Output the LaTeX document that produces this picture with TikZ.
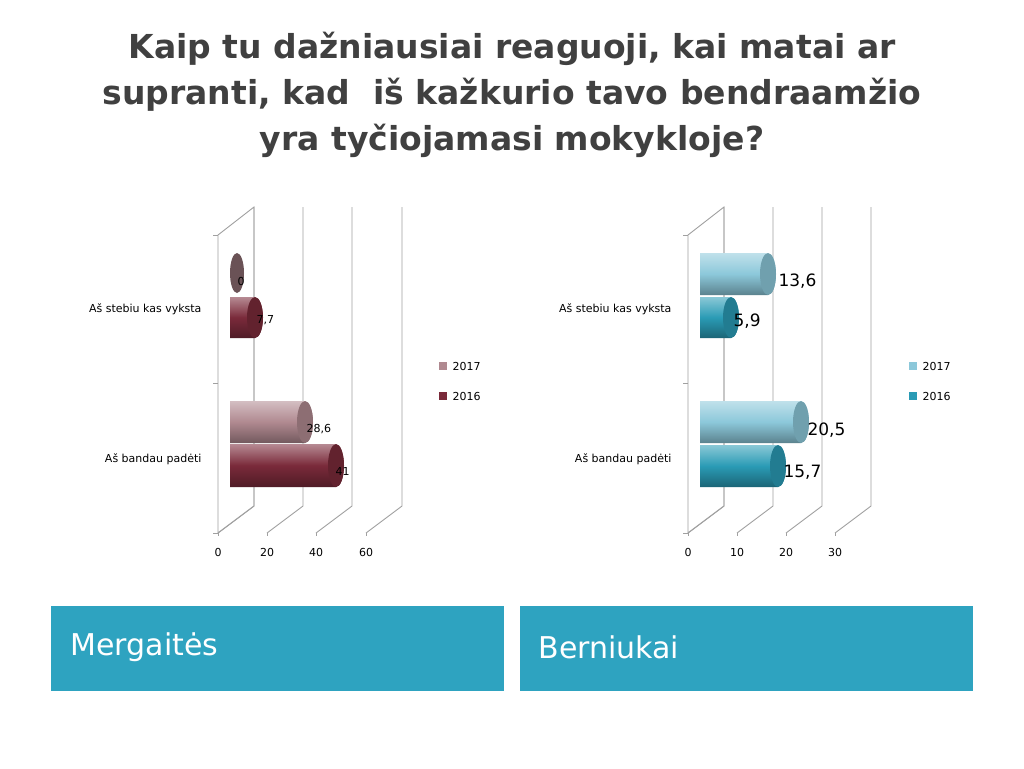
\documentclass[tikz,border=0pt]{standalone}
\usepackage{fontspec}
\setmainfont{DejaVu Sans}
\definecolor{boxblue}{HTML}{2EA3C0}
\definecolor{girlold}{HTML}{7A2A3A}
\definecolor{girlnew}{HTML}{B08990}
\definecolor{boyold}{HTML}{2A9BB5}
\definecolor{boynew}{HTML}{8CC8DA}
\definecolor{gridgray}{HTML}{A0A0A0}
\tikzset{
  grid line/.style={draw=gridgray,line width=0.9pt},
  cat label/.style={anchor=east,font=\fontsize{11}{13}\selectfont},
  tick label/.style={font=\fontsize{11}{13}\selectfont},
  small val/.style={anchor=west,font=\fontsize{11}{13}\selectfont},
  big val/.style={anchor=west,font=\fontsize{17}{19}\selectfont},
  legend text/.style={anchor=west,font=\fontsize{11}{13}\selectfont},
  group box/.style={fill=boxblue,draw=none},
  group text/.style={anchor=west,text=white,font=\fontsize{30}{34}\selectfont}
}
% cylinder bar: y top, y bottom, x start, x end, colour
\newcommand{\cylbar}[5]{%
  \shade[top color=#5!55!white,bottom color=#5!65!black,middle color=#5]
    (#3,#1) -- (#4,#1) arc[start angle=-90,end angle=90,x radius=8,y radius={(#2-#1)/2}] -- (#3,#2) -- cycle;
  \fill[#5!80!black] (#4,{(#1+#2)/2}) ellipse[x radius=8,y radius={(#2-#1)/2}];
}
\begin{document}
\begin{tikzpicture}[x=1pt,y=-1pt]
  \useasboundingbox (0,0) rectangle (1024,768);
  \fill[white] (0,0) rectangle (1024,768);

  % title
  \node[align=center,font=\fontsize{33}{46}\selectfont\bfseries,text=black!75] (title) at (512,95)
    {Kaip tu dažniausiai reaguoji, kai matai ar\\supranti, kad\ \ iš kažkurio tavo bendraamžio\\yra tyčiojamasi mokykloje?};

  % left chart frame
  \draw[grid line] (218,235) -- (218,533) -- (254,506) -- (254,207) -- cycle;
  \foreach \xx/\lab in {218/0,267/20,316/40,366/60} {
    \draw[grid line] (\xx,533) -- ++(36,-27) -- ++(0,-299);
    \draw[grid line] (\xx,533) -- ++(0,3);
    \node[tick label] (tl\lab) at (\xx,552) {\lab};
  }
  \foreach \yy in {235,383,533} \draw[grid line] (213,\yy) -- (218,\yy);

  % right chart frame
  \draw[grid line] (688,235) -- (688,533) -- (724,506) -- (724,207) -- cycle;
  \foreach \xx/\lab in {688/0,737/10,786/20,835/30} {
    \draw[grid line] (\xx,533) -- ++(36,-27) -- ++(0,-299);
    \draw[grid line] (\xx,533) -- ++(0,3);
    \node[tick label] (tr\lab) at (\xx,552) {\lab};
  }
  \foreach \yy in {235,383,533} \draw[grid line] (683,\yy) -- (688,\yy);

  % left bars
  \fill[girlnew!60!black] (237,273) ellipse[x radius=7,y radius=20];
  \cylbar{297}{338}{230}{255}{girlold}
  \cylbar{401}{443}{230}{305}{girlnew}
  \cylbar{444}{487}{230}{336}{girlold}
  \node[small val] (v1) at (234,281) {0};
  \node[small val] (v2) at (253,320) {7,7};
  \node[small val] (v3) at (303,429) {28,6};
  \node[small val] (v4) at (332,471) {41};

  % right bars
  \cylbar{253}{295}{700}{768}{boynew}
  \cylbar{297}{338}{700}{731}{boyold}
  \cylbar{401}{443}{700}{801}{boynew}
  \cylbar{445}{487}{700}{778}{boyold}
  \node[big val] (w1) at (775,281) {13,6};
  \node[big val] (w2) at (730,321) {5,9};
  \node[big val] (w3) at (804,430) {20,5};
  \node[big val] (w4) at (780,472) {15,7};

  % category labels
  \node[cat label] (cl1) at (205,309) {Aš stebiu kas vyksta};
  \node[cat label] (cl2) at (205,459) {Aš bandau padėti};
  \node[cat label] (cr1) at (675,309) {Aš stebiu kas vyksta};
  \node[cat label] (cr2) at (675,459) {Aš bandau padėti};

  % legends
  \fill[girlnew] (439,362) rectangle ++(8,8);
  \node[legend text] (lg1) at (449,366) {2017};
  \fill[girlold] (439,392) rectangle ++(8,8);
  \node[legend text] (lg2) at (449,396) {2016};
  \fill[boynew] (909,362) rectangle ++(8,8);
  \node[legend text] (lb1) at (919,366) {2017};
  \fill[boyold] (909,392) rectangle ++(8,8);
  \node[legend text] (lb2) at (919,396) {2016};

  % group boxes
  \fill[group box] (51,606) rectangle (504,691);
  \node[group text] (girls) at (67,647) {Mergaitės};
  \fill[group box] (520,606) rectangle (973,691);
  \node[group text] (boys) at (535,647) {Berniukai};
\end{tikzpicture}
\end{document}
